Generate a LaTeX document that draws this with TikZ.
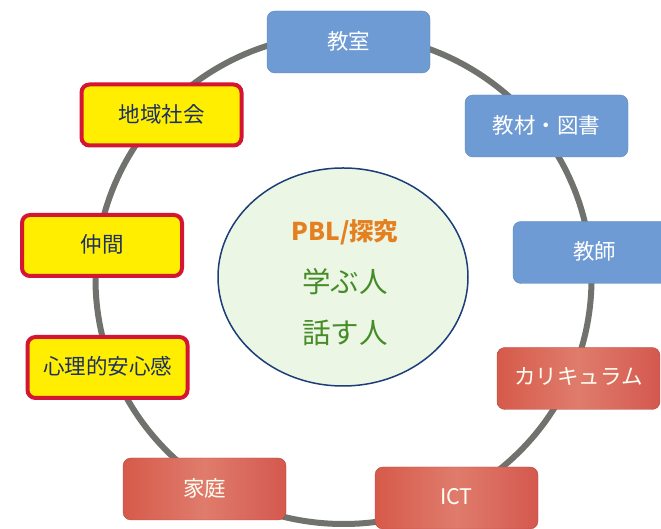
\documentclass[tikz,border=0pt]{standalone}
\usepackage{fontspec}
\setmainfont{Noto Sans CJK JP}
\usetikzlibrary{shapes.geometric}
\definecolor{bluebox}{RGB}{110,155,211}
\definecolor{redbox}{RGB}{212,88,78}
\definecolor{yelbox}{RGB}{255,238,0}
\definecolor{yelline}{RGB}{212,22,52}
\definecolor{navytxt}{RGB}{28,48,100}
\definecolor{linkgray}{RGB}{112,114,110}
\definecolor{ellfill}{RGB}{236,246,228}
\definecolor{ellline}{RGB}{28,62,120}
\definecolor{orangetxt}{RGB}{228,128,32}
\definecolor{greentxt}{RGB}{70,140,40}
\tikzset{
  boxbase/.style={rectangle, rounded corners=8pt, minimum width=163pt, minimum height=62pt, inner sep=0pt, text depth=4pt, font=\fontsize{21.5}{24}\selectfont},
  bluenode/.style={boxbase, fill=bluebox, draw=bluebox!85!black, line width=0.4pt, text=white},
  rednode/.style={boxbase, left color=redbox!95!orange, right color=redbox, middle color=redbox!92!orange!80!white, shading angle=90, draw=redbox!85!black, line width=0.4pt, text=white!95!yellow},
  yelnode/.style={boxbase, fill=yelbox, draw=yelline, line width=4pt, minimum width=160pt, minimum height=61pt, text=navytxt},
  link/.style={draw=linkgray, line width=6pt},
}
\begin{document}
\begin{tikzpicture}[x=1pt,y=1pt]
\useasboundingbox (0,0) rectangle (661,529);
\fill[white] (0,0) rectangle (661,529);
% ring of connectors, passing behind the boxes
\coordinate (ringc) at (343.5,250);
\draw[link] (ringc) ellipse [x radius=248, y radius=245];
% centre ellipse
\node[ellipse, fill=ellfill, draw=ellline, line width=1.5pt, minimum width=250pt, minimum height=218pt] (centre) at (343,252) {};
\node[text=orangetxt, font=\bfseries\fontsize{24.5}{28}\selectfont] (pbl) at (345,297) {PBL/探究};
\node[text=greentxt, font=\fontsize{28.5}{32}\selectfont] (manabu) at (345,247) {学ぶ人};
\node[text=greentxt, font=\fontsize{28.5}{32}\selectfont] (hanasu) at (345,196) {話す人};
% ring nodes
\node[bluenode] (kyoshitsu) at (348.5,487) {教室};
\node[bluenode] (kyozai) at (546.5,403) {教材・図書};
\node[bluenode] (kyoshi) at (594.5,276.5) {教師};
\node[rednode] (curri) at (578.5,150.5) {カリキュラム};
\node[rednode] (ict) at (456.5,31) {ICT};
\node[rednode] (katei) at (204.5,40) {家庭};
\node[yelnode] (anshin) at (107.5,161.5) {心理的安心感};
\node[yelnode] (nakama) at (102,283.5) {仲間};
\node[yelnode] (chiiki) at (161.5,414) {地域社会};
\end{tikzpicture}
\end{document}
